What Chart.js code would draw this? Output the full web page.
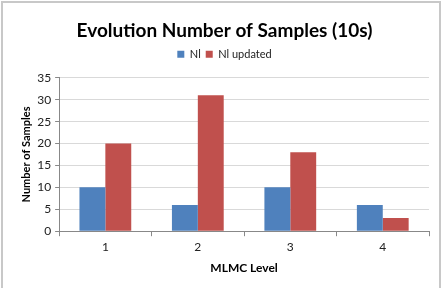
<!DOCTYPE html>
<html lang="en">
<head>
    <meta charset="UTF-8">
    <title>Evolution Number of Samples (10s)</title>
    <script src="https://cdn.jsdelivr.net/npm/chart.js"></script>
    <style>
        body { margin: 0; background: #fff; }
        #wrap { position: relative; width: 442px; height: 288px; overflow: hidden; }
        #frame { position: absolute; left: 1px; top: 1px; width: 436px; height: 300px; border: 2px solid #c8c8c8; pointer-events: none; }
        canvas { position: absolute; left: 0; top: 0; }
    </style>
</head>
<body>
    <div id="wrap">
        <canvas id="samplesChart" width="442" height="288"></canvas>
        <div id="frame"></div>
    </div>

    <script>
        const levels = ['1', '2', '3', '4'];
        const nl = [10, 6, 10, 6];
        const nlUpdated = [20, 31, 18, 3];

        const fontFamily = 'Lato, "Open Sans", sans-serif';

        // extra room below the legend, before the plot area
        const legendGap = {
            id: 'legendGap',
            beforeInit(chart) {
                const origFit = chart.legend.fit;
                chart.legend.fit = function () {
                    origFit.call(this);
                    this.height += 8;
                };
            }
        };

        let ctx = document.getElementById('samplesChart').getContext('2d');

        new Chart(ctx, {
            type: 'bar',
            data: {
                labels: levels,
                datasets: [
                    { label: 'Nl', data: nl, backgroundColor: '#4f81bd' },
                    { label: 'Nl updated', data: nlUpdated, backgroundColor: '#c0504d' }
                ]
            },
            plugins: [legendGap],
            options: {
                responsive: false,
                animation: false,
                datasets: { bar: { categoryPercentage: 0.56, barPercentage: 1.0 } },
                layout: { padding: { left: 20, right: 13, top: 19, bottom: 13 } },
                plugins: {
                    title: {
                        display: true,
                        text: 'Evolution Number of Samples (10s)',
                        color: '#000',
                        font: { family: fontFamily, size: 19, weight: 'bold' },
                        padding: { top: 0, bottom: 2 }
                    },
                    legend: {
                        position: 'top',
                        labels: {
                            boxWidth: 7,
                            boxHeight: 7,
                            padding: 5,
                            color: '#222',
                            font: { family: fontFamily, size: 11 }
                        }
                    },
                    tooltip: { enabled: false }
                },
                scales: {
                    x: {
                        grid: { offset: true, drawOnChartArea: false, tickLength: 5, color: '#888' },
                        border: { color: '#888' },
                        ticks: { color: '#222', font: { family: fontFamily, size: 12 }, padding: 4 },
                        title: {
                            display: true,
                            text: 'MLMC Level',
                            color: '#000',
                            font: { family: fontFamily, size: 12, weight: 'bold' },
                            padding: { top: 2, bottom: 0 }
                        }
                    },
                    y: {
                        min: 0,
                        max: 35,
                        ticks: { stepSize: 5, color: '#222', font: { family: fontFamily, size: 12 }, padding: 4 },
                        grid: { color: '#d9d9d9', tickLength: 4, tickColor: '#888' },
                        border: { color: '#888' },
                        title: {
                            display: true,
                            text: 'Number of Samples',
                            color: '#000',
                            font: { family: fontFamily, size: 11, weight: 'bold' },
                            padding: { top: 0, bottom: 0 }
                        }
                    }
                }
            }
        });
    </script>
</body>
</html>
